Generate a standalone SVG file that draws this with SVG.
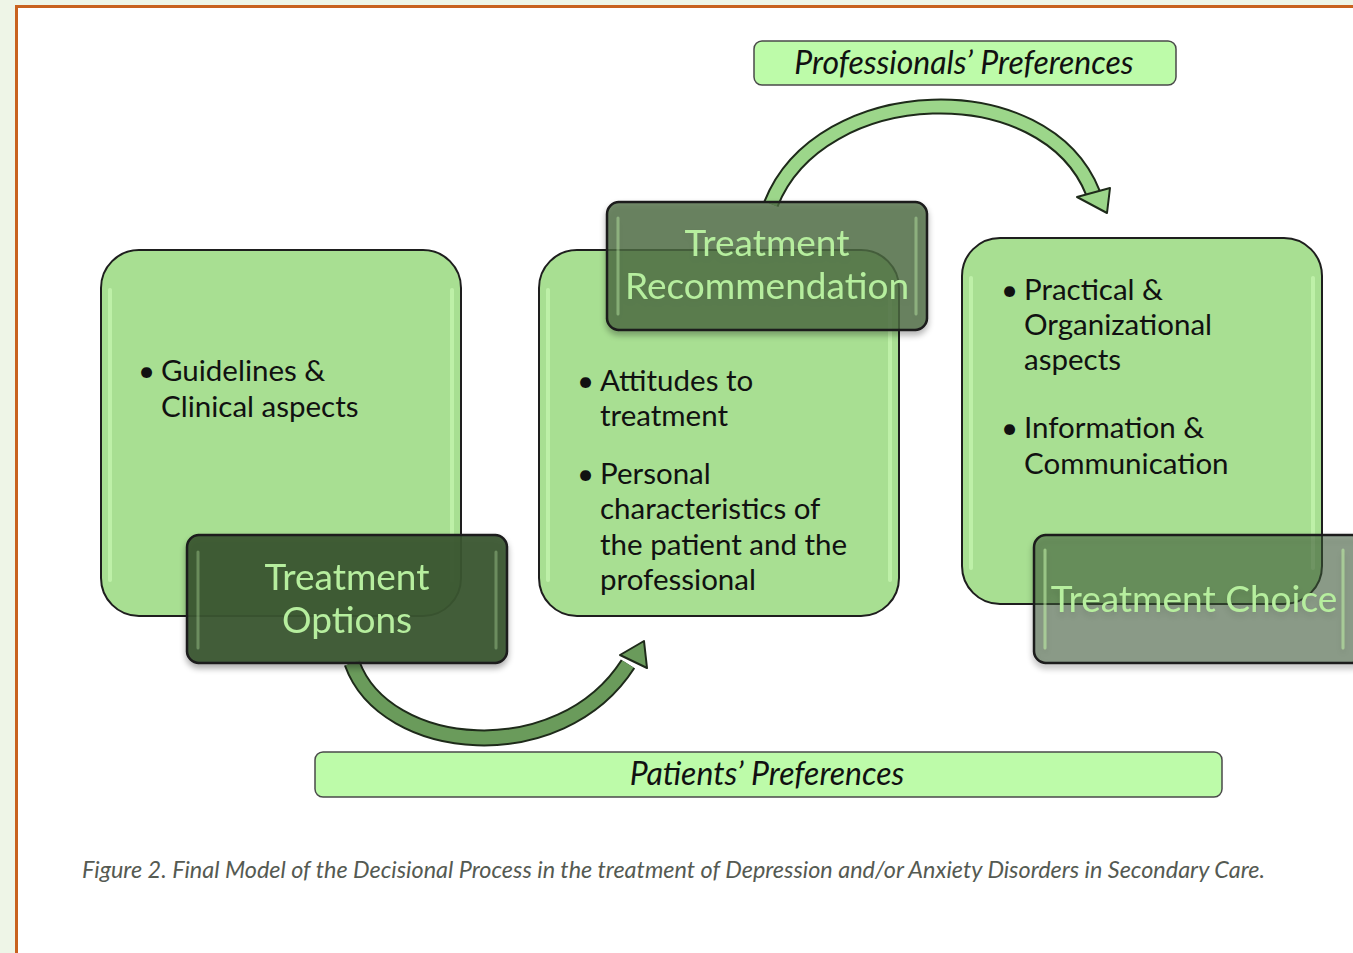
<svg xmlns="http://www.w3.org/2000/svg" width="1353" height="953" viewBox="0 0 1353 953">
<defs>
<style>
.big{fill:#a8df92;stroke:#1e1e1e;stroke-width:2}
.hl{stroke:#c4f5ae;stroke-width:4;stroke-linecap:round;opacity:0.8}
.hs{stroke:#b8e8a2;stroke-width:3;stroke-linecap:round}
.lbl{stroke:#1a1a1a;stroke-width:2.5}
.lt{font-family:Lato,"Liberation Sans",sans-serif;font-size:37px;fill:#b6ee9e;text-anchor:middle}
.bt{font-family:Lato,"Liberation Sans",sans-serif;font-size:29.5px;fill:#111}
.pref{fill:#bdfba9;stroke:#4a4a4a;stroke-width:1.5}
.pt{font-family:Lato,"Liberation Sans",sans-serif;font-style:italic;font-size:32px;fill:#111;text-anchor:middle}
.cap{font-family:Lato,"Liberation Sans",sans-serif;font-style:italic;font-size:23px;fill:#555a52}
</style>
<filter id="sh" x="-10%" y="-10%" width="120%" height="130%">
<feGaussianBlur in="SourceAlpha" stdDeviation="3"/>
<feOffset dy="4"/>
<feComponentTransfer><feFuncA type="linear" slope="0.35"/></feComponentTransfer>
<feMerge><feMergeNode/><feMergeNode in="SourceGraphic"/></feMerge>
</filter>
</defs>
<rect width="1353" height="953" fill="#ffffff"/>
<rect x="0" y="0" width="15" height="953" fill="#eef5e7"/>
<rect x="0" y="0" width="1353" height="5" fill="#eef5e7"/>
<path d="M16.5 953 V6.5 H1353" fill="none" stroke="#c8621f" stroke-width="3"/>

<g id="connectors">
<path d="M352 663 C385 755 560 770 628 664" fill="none" stroke="#1e2a1a" stroke-width="17"/>
<path d="M352 663 C385 755 560 770 628 664" fill="none" stroke="#6a9b5b" stroke-width="13"/>
<polygon points="644,641 620,655 647,668" fill="#6a9b5b" stroke="#1e2a1a" stroke-width="2" stroke-linejoin="round"/>
<path d="M771 204 C820 80 1045 72 1093 193" fill="none" stroke="#1e2a1a" stroke-width="16"/>
<path d="M771 204 C820 80 1045 72 1093 193" fill="none" stroke="#9cd68a" stroke-width="12"/>
<polygon points="1107,213 1077,197 1110,188" fill="#9cd68a" stroke="#1e2a1a" stroke-width="2" stroke-linejoin="round"/>
</g>

<g id="professionals-preferences">
<rect class="pref" x="754" y="41" width="422" height="44" rx="8"/>
<text class="pt" x="964" y="74">Professionals’ Preferences</text>
</g>

<g id="patients-preferences">
<rect class="pref" x="315" y="752" width="907" height="45" rx="8"/>
<text class="pt" x="767" y="785">Patients’ Preferences</text>
</g>

<g id="box-guidelines">
<rect class="big" x="101" y="250" width="360" height="366" rx="38"/>
<line class="hl" x1="110" y1="290" x2="110" y2="580"/>
<line class="hl" x1="452" y1="290" x2="452" y2="580"/>
<text class="bt"><tspan x="138" y="381">•</tspan><tspan x="161" y="381">Guidelines &amp;</tspan><tspan x="161" y="417">Clinical aspects</tspan></text>
</g>

<g id="treatment-options" filter="url(#sh)">
<rect class="lbl" x="187" y="535" width="320" height="128" rx="12" fill="#3a5532" fill-opacity="0.93"/>
<line class="hs" x1="198" y1="552" x2="198" y2="648" opacity="0.35"/>
<line class="hs" x1="496" y1="552" x2="496" y2="648" opacity="0.35"/>
<text class="lt" x="347" y="590">Treatment</text>
<text class="lt" x="347" y="633">Options</text>
</g>

<g id="box-attitudes">
<rect class="big" x="539" y="250" width="360" height="366" rx="38"/>
<line class="hl" x1="548" y1="290" x2="548" y2="580"/>
<line class="hl" x1="890" y1="290" x2="890" y2="580"/>
<text class="bt"><tspan x="577" y="391">•</tspan><tspan x="600" y="391">Attitudes to</tspan><tspan x="600" y="426">treatment</tspan><tspan x="577" y="484">•</tspan><tspan x="600" y="484">Personal</tspan><tspan x="600" y="519">characteristics of</tspan><tspan x="600" y="555">the patient and the</tspan><tspan x="600" y="590">professional</tspan></text>
</g>

<g id="treatment-recommendation" filter="url(#sh)">
<rect class="lbl" x="607" y="202" width="320" height="128" rx="12" fill="#4d6b44" fill-opacity="0.78"/>
<line class="hs" x1="618" y1="218" x2="618" y2="314" opacity="0.45"/>
<line class="hs" x1="916" y1="218" x2="916" y2="314" opacity="0.45"/>
<text class="lt" x="767" y="256">Treatment</text>
<text class="lt" x="767" y="299">Recommendation</text>
</g>

<g id="box-practical">
<rect class="big" x="962" y="238" width="360" height="366" rx="38"/>
<line class="hl" x1="971" y1="278" x2="971" y2="568"/>
<line class="hl" x1="1313" y1="278" x2="1313" y2="568"/>
<text class="bt"><tspan x="1001" y="300">•</tspan><tspan x="1024" y="300">Practical &amp;</tspan><tspan x="1024" y="335">Organizational</tspan><tspan x="1024" y="370">aspects</tspan><tspan x="1001" y="438">•</tspan><tspan x="1024" y="438">Information &amp;</tspan><tspan x="1024" y="474">Communication</tspan></text>
</g>

<g id="treatment-choice" filter="url(#sh)">
<rect class="lbl" x="1034" y="535" width="330" height="128" rx="12" fill="#3e5a36" fill-opacity="0.5"/>
<line class="hs" x1="1045" y1="550" x2="1045" y2="648" opacity="0.6"/>
<line class="hs" x1="1343" y1="550" x2="1343" y2="648" opacity="0.6"/>
<text class="lt" x="1194" y="612">Treatment Choice</text>
</g>

<text class="cap" x="82" y="878" textLength="1183" lengthAdjust="spacingAndGlyphs">Figure 2. Final Model of the Decisional Process in the treatment of Depression and/or Anxiety Disorders in Secondary Care.</text>
</svg>
